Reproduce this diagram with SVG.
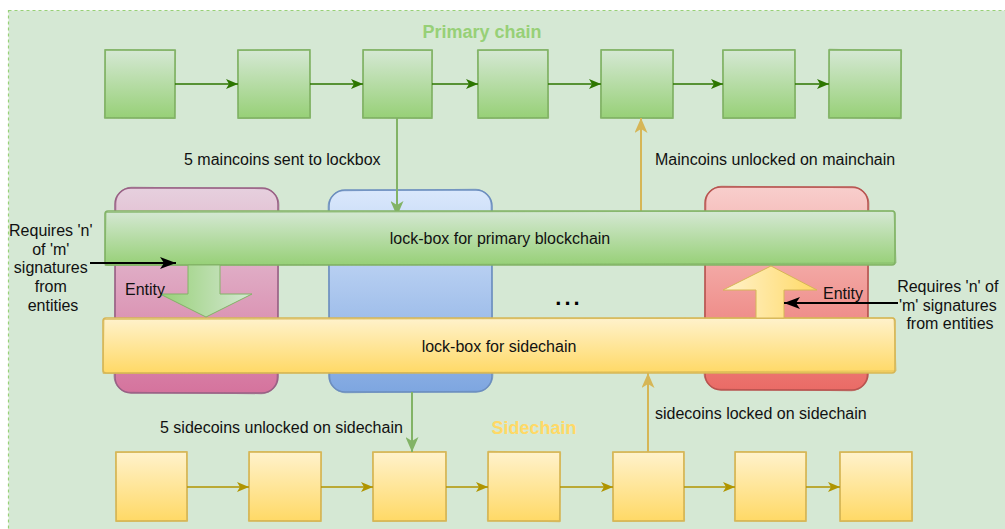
<svg xmlns="http://www.w3.org/2000/svg" width="1005" height="529" viewBox="0 0 1005 529">
  <defs>
    <linearGradient id="gGreen" x1="0" y1="0" x2="0" y2="1">
      <stop offset="0" stop-color="#d5e8d4"/>
      <stop offset="1" stop-color="#97d077"/>
    </linearGradient>
    <linearGradient id="gYellow" x1="0" y1="0" x2="0" y2="1">
      <stop offset="0" stop-color="#fff2cc"/>
      <stop offset="1" stop-color="#ffd966"/>
    </linearGradient>
    <linearGradient id="gPink" x1="0" y1="0" x2="0" y2="1">
      <stop offset="0" stop-color="#e6d0de"/>
      <stop offset="1" stop-color="#d5739d"/>
    </linearGradient>
    <linearGradient id="gBlue" x1="0" y1="0" x2="0" y2="1">
      <stop offset="0" stop-color="#dae8fc"/>
      <stop offset="1" stop-color="#7ea6e0"/>
    </linearGradient>
    <linearGradient id="gRed" x1="0" y1="0" x2="0" y2="1">
      <stop offset="0" stop-color="#f8cecc"/>
      <stop offset="1" stop-color="#ea6b66"/>
    </linearGradient>
    <linearGradient id="gGreenH" x1="0" y1="0" x2="1" y2="0">
      <stop offset="0" stop-color="#97d077"/>
      <stop offset="1" stop-color="#d5e8d4"/>
    </linearGradient>
    <linearGradient id="gYellowH" x1="0" y1="0" x2="1" y2="0">
      <stop offset="0" stop-color="#fff2cc"/>
      <stop offset="1" stop-color="#ffd966"/>
    </linearGradient>

    <marker id="ahDark" viewBox="0 0 12 10" markerWidth="12" markerHeight="10" refX="12" refY="5" orient="auto" markerUnits="userSpaceOnUse">
      <path d="M0,0 L12,5 L0,10 L3,5 z" fill="#2d7600"/>
    </marker>
    <marker id="ahOlive" viewBox="0 0 12 10" markerWidth="12" markerHeight="10" refX="12" refY="5" orient="auto" markerUnits="userSpaceOnUse">
      <path d="M0,0 L12,5 L0,10 L3,5 z" fill="#b09500"/>
    </marker>
    <marker id="ahGreen" viewBox="0 0 15 13" markerWidth="15" markerHeight="13" refX="15" refY="6.5" orient="auto" markerUnits="userSpaceOnUse">
      <path d="M0,0 L15,6.5 L0,13 L4,6.5 z" fill="#82b366"/>
    </marker>
    <marker id="ahGold" viewBox="0 0 15 13" markerWidth="15" markerHeight="13" refX="15" refY="6.5" orient="auto" markerUnits="userSpaceOnUse">
      <path d="M0,0 L15,6.5 L0,13 L4,6.5 z" fill="#d6b656"/>
    </marker>
    <marker id="ahBlack" viewBox="0 0 16 12" markerWidth="16" markerHeight="12" refX="16" refY="6" orient="auto" markerUnits="userSpaceOnUse">
      <path d="M0,0 L16,6 L0,12 L4,6 z" fill="#000"/>
    </marker>

    <style>
      .lbl { font-family: "Liberation Sans", Arial, sans-serif; font-size: 16px; fill: #111; }
      .mid { text-anchor: middle; }
      .title { font-family: "Liberation Sans", Arial, sans-serif; font-size: 18px; font-weight: bold; }
      .gbox { fill: url(#gGreen); stroke: #82b366; stroke-width: 1.6; }
      .ybox { fill: url(#gYellow); stroke: #d6b656; stroke-width: 1.6; }
      .gsk { fill: none; stroke: #82b366; stroke-width: 1; opacity: 0.8; }
      .ysk { fill: none; stroke: #d6b656; stroke-width: 1; opacity: 0.8; }
      .chainTop { stroke: #2d7600; stroke-width: 1.5; fill: none; marker-end: url(#ahDark); }
      .chainBot { stroke: #b09500; stroke-width: 1.5; fill: none; marker-end: url(#ahOlive); }
      .flowG { stroke: #82b366; stroke-width: 2; fill: none; marker-end: url(#ahGreen); }
      .flowY { stroke: #d6b656; stroke-width: 2; fill: none; marker-end: url(#ahGold); }
      .sig { stroke: #000; stroke-width: 2; fill: none; marker-end: url(#ahBlack); }
    </style>
  </defs>

  <!-- container -->
  <rect x="8.5" y="10.5" width="1010" height="530" fill="#d5e8d4" stroke="#97d077" stroke-width="1.2" stroke-dasharray="3 3"/>

  <text class="title mid" x="482" y="38" fill="#97d077">Primary chain</text>
  <text class="title mid" x="534" y="434" fill="#ffd966">Sidechain</text>

  <!-- entities -->
  <g id="entity-pink">
    <rect x="115" y="188" width="163" height="205" rx="16" fill="url(#gPink)" stroke="#996185" stroke-width="1.5"/>
    <rect x="115" y="188" width="163" height="205" rx="16" fill="none" stroke="#996185" stroke-width="1" opacity="0.7" transform="rotate(0.6 196 290)"/>
  </g>
  <g id="entity-blue">
    <rect x="329" y="190" width="163" height="202" rx="16" fill="url(#gBlue)" stroke="#6c8ebf" stroke-width="1.5"/>
    <rect x="329" y="190" width="163" height="202" rx="16" fill="none" stroke="#6c8ebf" stroke-width="1" opacity="0.7" transform="rotate(-0.6 410 291)"/>
  </g>
  <g id="entity-red">
    <rect x="705" y="187" width="163" height="203" rx="16" fill="url(#gRed)" stroke="#b85450" stroke-width="1.5"/>
    <rect x="705" y="187" width="163" height="203" rx="16" fill="none" stroke="#b85450" stroke-width="1" opacity="0.7" transform="rotate(0.6 786 288)"/>
  </g>

  <!-- primary chain blocks -->
  <g id="main-1"><rect class="gbox" x="105" y="50" width="70" height="68"/><rect class="gsk" x="105" y="50" width="70" height="68" transform="rotate(1 140 84)"/></g>
  <g id="main-2"><rect class="gbox" x="238" y="50" width="72" height="68"/><rect class="gsk" x="238" y="50" width="72" height="68" transform="rotate(-0.9 274 84)"/></g>
  <g id="main-3"><rect class="gbox" x="363" y="50" width="69" height="68"/><rect class="gsk" x="363" y="50" width="69" height="68" transform="rotate(0.8 397 84)"/></g>
  <g id="main-4"><rect class="gbox" x="478" y="50" width="70" height="68"/><rect class="gsk" x="478" y="50" width="70" height="68" transform="rotate(-1 513 84)"/></g>
  <g id="main-5"><rect class="gbox" x="601" y="50" width="72" height="68"/><rect class="gsk" x="601" y="50" width="72" height="68" transform="rotate(0.9 637 84)"/></g>
  <g id="main-6"><rect class="gbox" x="723" y="50" width="72" height="68"/><rect class="gsk" x="723" y="50" width="72" height="68" transform="rotate(-0.8 759 84)"/></g>
  <g id="main-7"><rect class="gbox" x="829" y="50" width="72" height="68"/><rect class="gsk" x="829" y="50" width="72" height="68" transform="rotate(1 865 84)"/></g>

  <!-- sidechain blocks -->
  <g id="side-1"><rect class="ybox" x="116" y="452" width="71" height="69"/><rect class="ysk" x="116" y="452" width="71" height="69" transform="rotate(-0.9 151 486)"/></g>
  <g id="side-2"><rect class="ybox" x="249" y="452" width="72" height="69"/><rect class="ysk" x="249" y="452" width="72" height="69" transform="rotate(0.9 285 486)"/></g>
  <g id="side-3"><rect class="ybox" x="373" y="452" width="73" height="69"/><rect class="ysk" x="373" y="452" width="73" height="69" transform="rotate(-0.8 409 486)"/></g>
  <g id="side-4"><rect class="ybox" x="488" y="452" width="72" height="69"/><rect class="ysk" x="488" y="452" width="72" height="69" transform="rotate(1 524 486)"/></g>
  <g id="side-5"><rect class="ybox" x="613" y="452" width="71" height="69"/><rect class="ysk" x="613" y="452" width="71" height="69" transform="rotate(-0.9 648 486)"/></g>
  <g id="side-6"><rect class="ybox" x="735" y="452" width="71" height="69"/><rect class="ysk" x="735" y="452" width="71" height="69" transform="rotate(0.9 770 486)"/></g>
  <g id="side-7"><rect class="ybox" x="840" y="452" width="72" height="69"/><rect class="ysk" x="840" y="452" width="72" height="69" transform="rotate(-0.8 876 486)"/></g>

  <!-- connectors -->
  <g id="connectors">
    <line class="chainTop" x1="175" y1="84" x2="238" y2="84"/>
    <line class="chainTop" x1="310" y1="84" x2="363" y2="84"/>
    <line class="chainTop" x1="432" y1="84" x2="478" y2="84"/>
    <line class="chainTop" x1="548" y1="84" x2="601" y2="84"/>
    <line class="chainTop" x1="673" y1="84" x2="723" y2="84"/>
    <line class="chainTop" x1="795" y1="84" x2="829" y2="84"/>

    <line class="chainBot" x1="187" y1="487" x2="249" y2="487"/>
    <line class="chainBot" x1="321" y1="487" x2="373" y2="487"/>
    <line class="chainBot" x1="446" y1="487" x2="488" y2="487"/>
    <line class="chainBot" x1="560" y1="487" x2="613" y2="487"/>
    <line class="chainBot" x1="684" y1="487" x2="735" y2="487"/>
    <line class="chainBot" x1="806" y1="487" x2="840" y2="487"/>

    <line class="flowG" x1="397" y1="118" x2="397" y2="216"/>
    <line class="flowY" x1="641" y1="211" x2="641" y2="118"/>
    <line class="flowG" x1="412" y1="392" x2="412" y2="452"/>
    <line class="flowY" x1="648" y1="452" x2="648" y2="373"/>
  </g>

  <!-- lock-boxes -->
  <g id="lockbox-primary">
    <rect x="105" y="211" width="790" height="54" rx="3" fill="url(#gGreen)" stroke="#82b366" stroke-width="1.6"/>
    <path d="M106,212.5 L894,211 L896,263 L105,265.5 Z" fill="none" stroke="#82b366" stroke-width="1" opacity="0.7"/>
    <text class="lbl mid" x="500" y="244">lock-box for primary blockchain</text>
  </g>
  <g id="lockbox-side">
    <rect x="103" y="318" width="792" height="55" rx="3" fill="url(#gYellow)" stroke="#d6b656" stroke-width="1.6"/>
    <path d="M104,319.5 L894,318 L896,371 L103,373.5 Z" fill="none" stroke="#d6b656" stroke-width="1" opacity="0.7"/>
    <text class="lbl mid" x="499" y="352">lock-box for sidechain</text>
  </g>

  <!-- transfer arrows between lock-boxes -->
  <g id="transfer-down">
    <polygon points="188,265 220,265 220,294 252,294 206,317 160,294 188,294" fill="url(#gGreenH)" stroke="#82b366" stroke-width="1"/>
  </g>
  <g id="transfer-up">
    <polygon points="756,318 784,318 784,290 817,290 771,266 723,290 756,290" fill="url(#gYellowH)" stroke="#d6b656" stroke-width="1"/>
  </g>

  <text class="lbl" x="125" y="295">Entity</text>
  <text class="lbl" x="823" y="299">Entity</text>
  <text x="569" y="305" text-anchor="middle" font-family="Liberation Sans, Arial, sans-serif" font-size="22" font-weight="bold" letter-spacing="3" fill="#000">...</text>

  <!-- flow labels -->
  <text class="lbl" x="184" y="165">5 maincoins sent to lockbox</text>
  <text class="lbl" x="655" y="165">Maincoins unlocked on mainchain</text>
  <text class="lbl" x="160" y="433">5 sidecoins unlocked on sidechain</text>
  <text class="lbl" x="655" y="419">sidecoins locked on sidechain</text>

  <!-- signature notes -->
  <g id="note-left">
    <text class="lbl mid" x="53">
      <tspan x="53" y="235.5">Requires 'n'</tspan>
      <tspan x="53" y="254.5">of 'm'</tspan>
      <tspan x="53" y="273">signatures</tspan>
      <tspan x="53" y="291.5">from</tspan>
      <tspan x="53" y="310.5">entities</tspan>
    </text>
  </g>
  <g id="note-right">
    <text class="lbl mid" x="950">
      <tspan x="950" y="291.5">Requires 'n' of</tspan>
      <tspan x="950" y="310.5">'m' signatures</tspan>
      <tspan x="950" y="329">from entities</tspan>
    </text>
  </g>
  <g id="signature-arrows">
    <line class="sig" x1="90" y1="263" x2="176" y2="263"/>
    <line class="sig" x1="898" y1="303" x2="784" y2="303"/>
  </g>
</svg>
